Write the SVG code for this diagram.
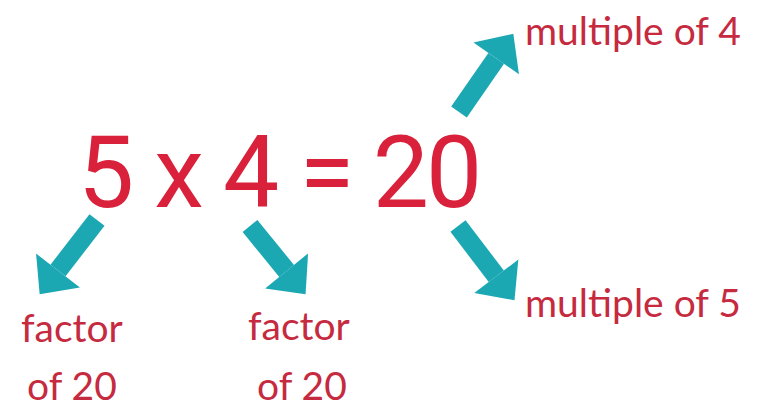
<svg xmlns="http://www.w3.org/2000/svg" width="767" height="413" viewBox="0 0 767 413">
<style>
.eq{font-family:Roboto,"Liberation Sans",sans-serif;font-size:100px;fill:#d9213b;text-anchor:middle}
.lbl{font-family:Lato,"Open Sans",sans-serif;font-size:39px;fill:#c62a3f}
.arr{stroke:#1ba8b3;stroke-width:19;fill:none;marker-end:url(#head)}
</style>
<defs>
<marker id="head" markerUnits="userSpaceOnUse" orient="auto" refX="0" refY="0" markerWidth="60" markerHeight="60" viewBox="-2 -26 32 52" overflow="visible">
<path d="M0,-24 L26,0 L0,24 Z" fill="#1ba8b3"/>
</marker>
</defs>
<rect width="767" height="413" fill="#ffffff"/>
<g id="equation">
<text class="eq" x="106" y="207">5</text>
<text class="eq" x="179" y="207">x</text>
<text class="eq" x="251" y="207">4</text>
<text class="eq" x="327" y="207">=</text>
<text class="eq" x="426" y="207" letter-spacing="-3">20</text>
</g>
<g id="factor1">
<text class="lbl" x="21" y="342">factor</text>
<text class="lbl" x="27" y="400">of 20</text>
</g>
<g id="factor2">
<text class="lbl" x="248" y="340">factor</text>
<text class="lbl" x="257" y="400">of 20</text>
</g>
<g id="multiple4">
<text class="lbl" x="525" y="45">multiple of 4</text>
</g>
<g id="multiple5">
<text class="lbl" x="525" y="317">multiple of 5</text>
</g>
<g id="connectors">
<line class="arr" x1="97" y1="220" x2="58" y2="270.5"/>
<line class="arr" x1="250" y1="226" x2="286.6" y2="270.9"/>
<line class="arr" x1="459" y1="112" x2="496.2" y2="58.4"/>
<line class="arr" x1="458" y1="226" x2="496.3" y2="276.3"/>
</g>
</svg>
